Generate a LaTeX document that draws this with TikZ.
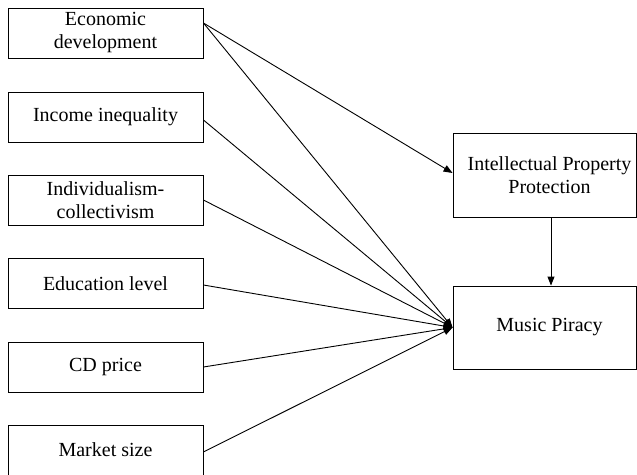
\documentclass[tikz,border=0pt]{standalone}
\usepackage{fontspec}
\setmainfont{Liberation Serif}
\usetikzlibrary{arrows.meta}
\begin{document}
\begin{tikzpicture}[x=1pt,y=-1pt,
  txt/.style={font=\fontsize{20}{23}\selectfont, align=center},
  box/.style={draw, line width=0.9pt, inner sep=0pt, txt},
  lbox/.style={box, minimum width=195pt, minimum height=50pt},
  rbox/.style={box, minimum width=183pt},
  conn/.style={line width=0.9pt, -{Triangle[length=9pt,width=7pt]}}]
\useasboundingbox (0,0) rectangle (637,474);
\clip (0,0) rectangle (637,474);
\fill[white] (0,0) rectangle (637,474);
\node[lbox] (e1) at (105.5,33) {Economic\\development};
\node[lbox] (e2) at (105.5,117) {Income inequality};
\node[lbox] (e3) at (105.5,200) {Individualism-\\collectivism};
\node[lbox] (e4) at (105.5,283.5) {Education level};
\node[lbox] (e5) at (105.5,367) {CD price};
\node[lbox] (e6) at (105.5,450) {Market size};
\node[rbox, minimum height=84pt, label={[txt, xshift=5pt]center:Intellectual Property\\Protection}] (ipp) at (544.5,175) {};
\node[rbox, minimum height=83pt, label={[txt, xshift=5pt]center:Music Piracy}] (mp) at (544.5,327.5) {};
\draw[conn] ([yshift=10pt]e1.east) -- ([yshift=2pt]ipp.west);
\draw[conn] ([yshift=10pt]e1.east) -- (mp.west);
\draw[conn] ([yshift=-3pt]e2.east) -- (mp.west);
\draw[conn] (e3.east) -- (mp.west);
\draw[conn] ([yshift=-1.5pt]e4.east) -- (mp.west);
\draw[conn] (e5.east) -- (mp.west);
\draw[conn] ([yshift=-2pt]e6.east) -- (mp.west);
\draw[conn] ([xshift=6.5pt]ipp.south) -- ([xshift=6.5pt]mp.north);
\end{tikzpicture}
\end{document}
